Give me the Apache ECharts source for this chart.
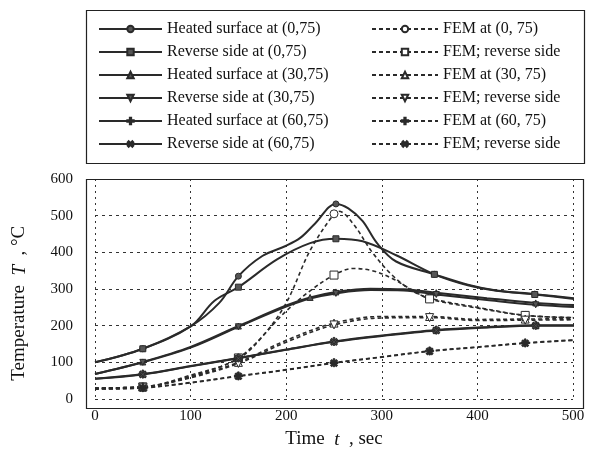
<!DOCTYPE html>
<html><head><meta charset="utf-8">
<script src="https://cdn.jsdelivr.net/npm/echarts@6/dist/echarts.min.js"></script>
<style>html,body{margin:0;padding:0;background:#fff}#c{width:594px;height:454px}</style>
</head><body><div id="c"></div>
<script>
// ---- data ----
const xTicks = [0,100,200,300,400,500];
const yTicks = [0,100,200,300,400,500,600];
const names = [
  'Heated surface at (0,75)','Reverse side at (0,75)','Heated surface at (30,75)',
  'Reverse side at (30,75)','Heated surface at (60,75)','Reverse side at (60,75)',
  'FEM at (0, 75)','FEM; reverse side','FEM at (30, 75)','FEM; reverse side ','FEM at (60, 75)','FEM; reverse side  '
];
// solid (measured) curves
const aX = [0,50,100,130,150,175,200,215,230,252,265,280,295,315,355,390,420,460,510];
const aY = [100,137,198,262,335,390,418,440,478,532,520,485,425,375,340,312,296,286,272];
const aM = [50,150,252,355,460];
const bX = [0,50,100,125,150,190,225,252,280,315,355,390,420,460,510];
const bY = [100,137,198,268,305,380,425,437,430,392,340,310,295,285,270];
const bM = [50,150,252,355,460];
const cX = [0,50,100,150,200,225,252,288,323,357,410,461,510];
const cY = [68,101,142,199,255,277,292,301,299,290,275,262,255];
const cM = [50,150,225,252,357,461];
const dX = [0,50,100,150,200,225,252,288,323,357,410,461,510];
const dY = [68,100,140,197,252,274,288,297,296,285,270,257,250];
const dM = [50,150,252,357,461];
const eX = [0,50,100,150,200,250,300,357,410,461,510];
const eY = [55,68,90,112,135,157,173,188,196,201,201];
const eM = [50,150,250,357,461];
const fX = [0,50,100,150,200,250,300,357,410,461,510];
const fY = [55,67,89,111,134,156,172,187,195,200,200];
const fM = [50,150,250,357,461];
// FEM curves
const gX = [0,50,100,150,175,200,225,250,255,270,290,310,330,350,400,450,500];
const gY = [30,33,62,110,170,262,405,505,512,478,400,340,298,275,250,228,222];
const gM = [50,150,250,350,450];
const hX = [0,50,100,150,200,225,250,270,290,310,330,350,400,450,500];
const hY = [30,33,65,112,240,295,338,356,350,330,300,273,248,228,222];
const hM = [50,150,250,350,450];
const iX = [0,50,100,150,200,250,300,350,400,450,500];
const iY = [30,33,60,100,160,207,225,225,217,218,219];
const iM = [50,150,250,350,450];
const jX = [0,50,100,150,200,250,300,350,400,450,500];
const jY = [28,32,58,97,155,202,221,222,214,215,216];
const jM = [50,150,250,350,450];
const kX = [0,50,100,150,200,250,300,350,400,450,500];
const kY = [28,31,45,63,80,99,115,131,142,153,161];
const kM = [50,150,250,350,450];
const lX = [0,50,100,150,200,250,300,350,400,450,500];
const lY = [27,30,44,62,79,98,114,130,141,152,160];
const lM = [50,150,250,350,450];

const PLUS = 'path://M4,0L6,0L6,4L10,4L10,6L6,6L6,10L4,10L4,6L0,6L0,4L4,4Z';
const TRI = 'triangle';
function mk(xs, ys, marks){
  return xs.map((x,i)=> marks.indexOf(x) >= 0 ? [x, ys[i]] : {value:[x, ys[i]], symbol:'none'});
}
const ink = '#2a2a2a';
function solid(name, xs, ys, marks, symbol, rot){
  return {name, type:'line', data: mk(xs,ys,marks), smooth:0.35, clip:false,
    symbol, symbolSize: symbol===PLUS?8:6, symbolRotate: rot||0, showAllSymbol:true,
    lineStyle:{color:ink, width:2, type:'solid'},
    itemStyle:{color:'#555', borderColor:ink, borderWidth:1}, z:3};
}
function fem(name, xs, ys, marks, symbol, rot){
  return {name, type:'line', data: mk(xs,ys,marks), smooth:0.35, clip:false,
    symbol, symbolSize: 8, symbolRotate: rot||0, showAllSymbol:true,
    lineStyle:{color:ink, width:1.6, type:[4,3]},
    itemStyle:{color:symbol===PLUS?ink:'#fff', borderColor:ink, borderWidth:1}, z:2};
}
const series = [
  solid(names[0], aX, aY, aM, 'circle'),
  solid(names[1], bX, bY, bM, 'rect'),
  solid(names[2], cX, cY, cM, TRI),
  solid(names[3], dX, dY, dM, TRI, 180),
  solid(names[4], eX, eY, eM, PLUS),
  solid(names[5], fX, fY, fM, PLUS, 45),
  fem(names[6], gX, gY, gM, 'circle'),
  fem(names[7], hX, hY, hM, 'rect'),
  fem(names[8], iX, iY, iM, TRI),
  fem(names[9], jX, jY, jM, TRI, 180),
  fem(names[10], kX, kY, kM, PLUS),
  fem(names[11], lX, lY, lM, PLUS, 45)
];

const font = 'Liberation Serif';
const chart = echarts.init(document.getElementById('c'), null, {renderer:'canvas'});
chart.setOption({
  animation:false,
  backgroundColor:'#fff',
  textStyle:{fontFamily:font},
  grid:{left:95, right:21, top:179, bottom:46, containLabel:false},
  xAxis:{type:'value', min:xTicks[0], max:xTicks[xTicks.length-1], interval:100,
    name:'{a|Time  }{i|t}{a|  , sec}', nameLocation:'middle', nameGap:31,
    nameTextStyle:{rich:{a:{fontFamily:font,fontSize:19,color:'#111'}, i:{fontFamily:font,fontSize:19,fontStyle:'italic',color:'#111'}}},
    axisLine:{show:false}, axisTick:{show:false},
    axisLabel:{fontFamily:font, fontSize:15, color:'#111', margin:10},
    splitLine:{show:true, lineStyle:{color:'#333', width:1, type:[2,4]}}},
  yAxis:{type:'value', min:yTicks[0], max:yTicks[yTicks.length-1], interval:100,
    name:'{a|Temperature  }{i|T}{a|  , °C      }', nameLocation:'middle', nameGap:66, nameRotate:90,
    nameTextStyle:{rich:{a:{fontFamily:font,fontSize:19,color:'#111'}, i:{fontFamily:font,fontSize:19,fontStyle:'italic',color:'#111'}}},
    axisLine:{show:false}, axisTick:{show:false},
    axisLabel:{fontFamily:font, fontSize:15, color:'#111', margin:22},
    splitLine:{show:true, lineStyle:{color:'#333', width:1, type:[3,4]}}},
  legend:[
    {data:names.slice(0,6), orient:'vertical', left:93, top:16, itemWidth:63, itemHeight:8, itemGap:7,
      textStyle:{fontFamily:font, fontSize:16, color:'#111'}, selectedMode:false},
    {data:names.slice(6), orient:'vertical', left:366, top:16, itemWidth:66, itemHeight:8, itemGap:7,
      textStyle:{fontFamily:font, fontSize:16, color:'#111'}, selectedMode:false}
  ],
  graphic:[
    {type:'rect', shape:{x:86.5, y:179.5, width:497, height:229}, style:{fill:'none', stroke:'#222', lineWidth:1.2}, z:10, silent:true},
    {type:'rect', shape:{x:86.5, y:10.5, width:498, height:153}, style:{fill:'none', stroke:'#222', lineWidth:1.2}, z:10, silent:true}
  ],
  series
});
</script></body></html>
